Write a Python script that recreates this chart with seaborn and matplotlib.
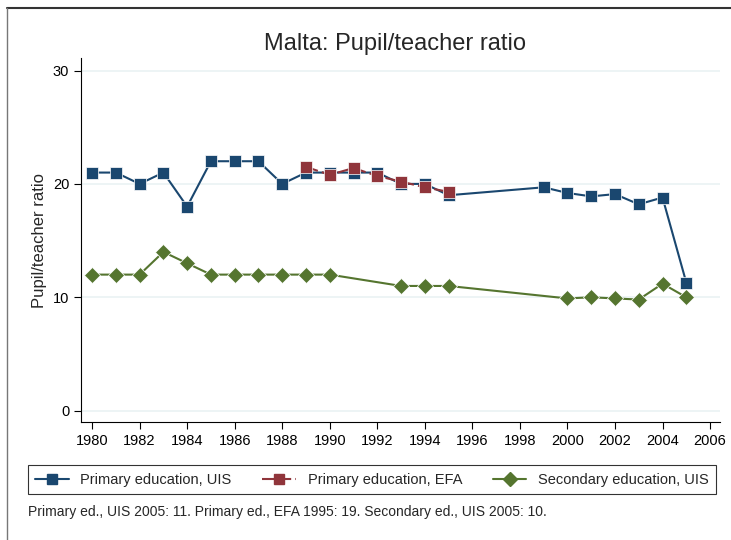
import matplotlib
matplotlib.use('Agg')
import matplotlib.pyplot as plt
import seaborn as sns
import pandas as pd

# Values
uis_years = [1980, 1981, 1982, 1983, 1984, 1985, 1986, 1987, 1988, 1989, 1990, 1991,
             1992, 1993, 1994, 1995, 1999, 2000, 2001, 2002, 2003, 2004, 2005]
uis_primary = [21, 21, 20, 21, 18, 22, 22, 22, 20, 21, 21, 21,
               21, 20, 20, 19, 19.7, 19.2, 18.9, 19.1, 18.2, 18.8, 11.3]

efa_years = [1989, 1990, 1991, 1992, 1993, 1994, 1995]
efa_primary = [21.5, 20.8, 21.4, 20.7, 20.2, 19.7, 19.3]

sec_years = [1980, 1981, 1982, 1983, 1984, 1985, 1986, 1987, 1988, 1989, 1990,
             1993, 1994, 1995, 2000, 2001, 2002, 2003, 2004, 2005]
sec_values = [12, 12, 12, 14, 13, 12, 12, 12, 12, 12, 12,
              11, 11, 11, 9.9, 10.0, 9.9, 9.8, 11.2, 10.0]

series_names = ['Primary education, UIS', 'Primary education, EFA', 'Secondary education, UIS']
colors = ['#1a476f', '#90353b', '#55752f']

df = pd.concat([
    pd.DataFrame({'year': uis_years, 'ratio': uis_primary, 'series': series_names[0]}),
    pd.DataFrame({'year': efa_years, 'ratio': efa_primary, 'series': series_names[1]}),
    pd.DataFrame({'year': sec_years, 'ratio': sec_values, 'series': series_names[2]}),
])

sns.set_style('white')
plt.rcParams['font.family'] = ['Liberation Sans', 'DejaVu Sans']

fig = plt.figure(figsize=(7.31, 5.40), dpi=100)
ax = fig.add_axes([0.111, 0.2185, 0.874, 0.674])

sns.lineplot(data=df, x='year', y='ratio', hue='series', style='series',
             palette=dict(zip(series_names, colors)),
             markers={series_names[0]: 's', series_names[1]: 's', series_names[2]: 'D'},
             dashes={series_names[0]: '', series_names[1]: (6, 2), series_names[2]: ''},
             markersize=8, linewidth=1.5, markeredgewidth=0.5, ax=ax, legend=False)

ax.set_xlim(1979.54, 2006.42)
ax.set_ylim(-1, 31.1)
ax.set_xticks(range(1980, 2007, 2))
ax.set_yticks([0, 10, 20, 30])
ax.yaxis.grid(True, color='#eaf2f3', linewidth=1.2)
ax.set_axisbelow(True)
for s in ['top', 'right']:
    ax.spines[s].set_visible(False)
for s in ['left', 'bottom']:
    ax.spines[s].set_color('black')
    ax.spines[s].set_linewidth(0.8)
ax.tick_params(axis='both', direction='out', length=5, width=0.8, labelsize=10.5,
               bottom=True, left=True, colors='black')
ax.set_xlabel('')
ax.set_ylabel('Pupil/teacher ratio', fontsize=12)
fig.text(0.54, 0.918, 'Malta: Pupil/teacher ratio', ha='center', va='center', fontsize=17)

handles = [plt.Line2D([], [], color=colors[0], marker='s', markersize=7, linewidth=1.5),
           plt.Line2D([], [], color=colors[1], marker='s', markersize=7, linewidth=1.5, dashes=(6, 2)),
           plt.Line2D([], [], color=colors[2], marker='D', markersize=7, linewidth=1.5)]
leg = fig.legend(handles, series_names, loc='lower left',
                 bbox_to_anchor=(28 / 731, 46 / 540, 688 / 731, 32 / 540), mode='expand',
                 ncol=3, frameon=True, fontsize=10.5, fancybox=False, edgecolor='black',
                 handlelength=2.3, handletextpad=0.8, columnspacing=1.0, borderpad=0.5,
                 borderaxespad=0)
leg.get_frame().set_linewidth(0.8)

fig.text(0.038, 0.051, 'Primary ed., UIS 2005: 11. Primary ed., EFA 1995: 19. Secondary ed., UIS 2005: 10.',
         ha='left', va='center', fontsize=10)

# screenshot frame edges (top and left)
fig.add_artist(plt.Line2D([6.5 / 731, 1], [1 - 7.5 / 540, 1 - 7.5 / 540],
                          color='#333333', linewidth=1.5, transform=fig.transFigure))
fig.add_artist(plt.Line2D([6.5 / 731, 6.5 / 731], [0, 1 - 7.5 / 540],
                          color='#777777', linewidth=1.0, transform=fig.transFigure))

fig.savefig('out.png', dpi=100, facecolor='white')
